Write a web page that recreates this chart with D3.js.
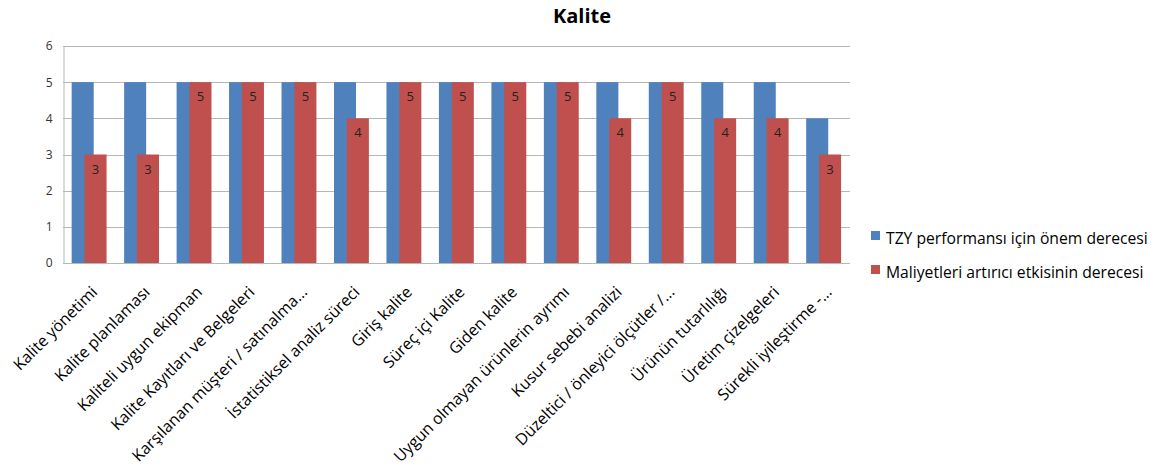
<!DOCTYPE html>
<html>
<head>
<meta charset="utf-8">
<script src="https://cdn.jsdelivr.net/npm/d3@7"></script>
<style>
  html, body { margin: 0; padding: 0; background: #fff; }
  svg { display: block; font-family: "Open Sans", sans-serif; }
</style>
</head>
<body>
<svg id="chart" width="1157" height="466"></svg>
<script>
const title = "Kalite";
const categories = [
  "Kalite yönetimi",
  "Kalite planlaması",
  "Kaliteli uygun ekipman",
  "Kalite Kayıtları ve Belgeleri",
  "Karşılanan müşteri / satınalma...",
  "İstatistiksel analiz süreci",
  "Giriş kalite",
  "Süreç içi Kalite",
  "Giden kalite",
  "Uygun olmayan ürünlerin ayrımı",
  "Kusur sebebi analizi",
  "Düzeltici / önleyici ölçütler /...",
  "Ürünün tutarlılığı",
  "Üretim çizelgeleri",
  "Sürekli iyileştirme -..."
];
const seriesNames = ["TZY performansı için önem derecesi", "Maliyetleri artırıcı etkisinin derecesi"];
const tzyValues = [5, 5, 5, 5, 5, 5, 5, 5, 5, 5, 5, 5, 5, 5, 4];
const maliyetValues = [3, 3, 5, 5, 5, 4, 5, 5, 5, 5, 4, 5, 4, 4, 3];
const yTicks = [0, 1, 2, 3, 4, 5, 6];
const colors = ["#4F81BD", "#C0504D"];

const svg = d3.select("#chart");
const plot = { left: 63, right: 850, top: 46, bottom: 263 };

const x = d3.scaleBand().domain(categories).range([plot.left, plot.right]).paddingInner(0).paddingOuter(0);
const y = d3.scaleLinear().domain([0, 6]).range([plot.bottom, plot.top]);
const bw = x.bandwidth();
// series offsets within a category (overlapping clustered bars)
const sx = d3.scaleLinear().domain([0, 1]).range([0.165 * bw, 0.41 * bw]);
const barW = 0.42 * bw;

// title
svg.append("text")
  .attr("x", 582).attr("y", 23)
  .attr("text-anchor", "middle")
  .attr("font-size", 20).attr("font-weight", "bold")
  .attr("fill", "#000")
  .text(title);

// gridlines
svg.append("g").selectAll("line")
  .data(yTicks.filter(d => d > 0))
  .join("line")
  .attr("x1", plot.left).attr("x2", plot.right)
  .attr("y1", d => Math.round(y(d)) + 0.5).attr("y2", d => Math.round(y(d)) + 0.5)
  .attr("stroke", "#b7b7b7").attr("stroke-width", 1);

// y axis
const yAxis = d3.axisLeft(y).tickValues(yTicks).tickSize(0).tickPadding(11).tickFormat(d3.format("d"));
const gy = svg.append("g").attr("transform", `translate(${plot.left + 0.5},0)`).call(yAxis);
gy.select(".domain").attr("stroke", "#b7b7b7");
gy.selectAll("text").attr("font-size", 12).attr("fill", "#333").attr("font-family", "Open Sans, sans-serif");

// bars
const data = categories.map((c, i) => ({ c, v: [tzyValues[i], maliyetValues[i]] }));
[0, 1].forEach(s => {
  svg.append("g").selectAll("rect")
    .data(data)
    .join("rect")
    .attr("x", d => x(d.c) + sx(s))
    .attr("y", d => y(d.v[s]))
    .attr("width", barW)
    .attr("height", d => y(0) - y(d.v[s]))
    .attr("fill", colors[s]);
});

// data labels on red series
svg.append("g").selectAll("text")
  .data(data)
  .join("text")
  .attr("x", d => x(d.c) + sx(1) + barW / 2)
  .attr("y", d => y(d.v[1]) + 19)
  .attr("text-anchor", "middle")
  .attr("font-size", 13)
  .attr("fill", "#222")
  .text(d => d.v[1]);

// x axis line
svg.append("line")
  .attr("x1", plot.left).attr("x2", plot.right)
  .attr("y1", plot.bottom + 0.5).attr("y2", plot.bottom + 0.5)
  .attr("stroke", "#b7b7b7");

// category labels
svg.append("g").selectAll("text")
  .data(categories)
  .join("text")
  .attr("transform", d => `translate(${x(d) + bw / 2 + 1},${plot.bottom + 22}) rotate(-45)`)
  .attr("text-anchor", "end")
  .attr("dy", "0.71em")
  .attr("font-size", 16)
  .attr("fill", "#000")
  .text(d => d);

// legend
const lg = svg.append("g");
seriesNames.forEach((n, i) => {
  const yy = 231 + i * 34;
  lg.append("rect").attr("x", 871).attr("y", yy).attr("width", 9).attr("height", 9).attr("fill", colors[i]);
  lg.append("text").attr("x", 886).attr("y", yy + 12.5)
    .attr("font-size", 15.7).attr("fill", "#000").text(n);
});
</script>
</body>
</html>
